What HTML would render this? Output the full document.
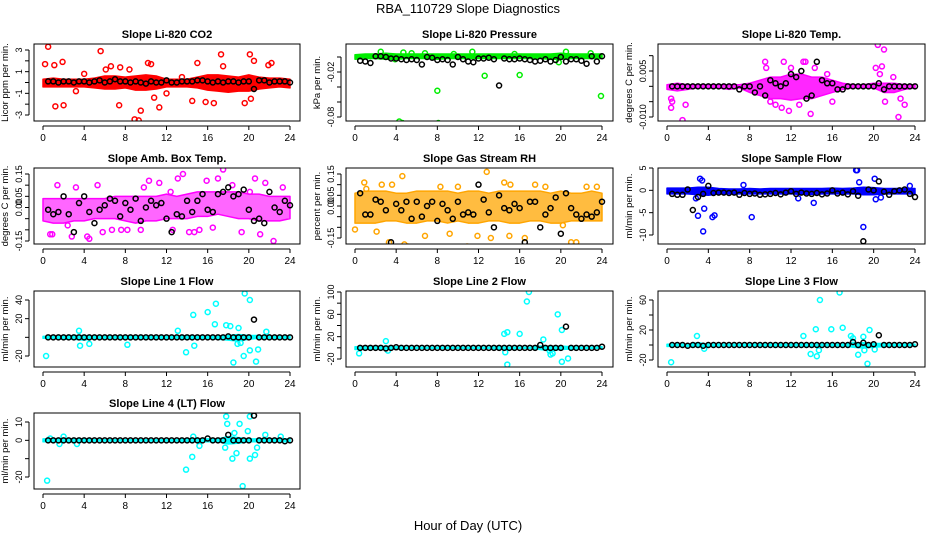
<!DOCTYPE html>
<html><head><meta charset="utf-8"><style>
html,body{margin:0;padding:0;background:#fff;}
svg{display:block;font-family:"Liberation Sans",sans-serif;}
</style></head><body>
<svg id="chart" width="936" height="540" viewBox="0 0 936 540" xmlns="http://www.w3.org/2000/svg">
<text x="468" y="13" font-size="13" text-anchor="middle">RBA_110729  Slope Diagnostics</text>
<text x="468" y="530" font-size="13" text-anchor="middle">Hour of Day (UTC)</text>
</svg>
<script>
const BAND_X=[0,1,2,3,4,5,6,7,8,9,10,11,12,13,14,15,16,17,18,19,20,21,22,23,24];
const BLACK_X=[0.5,1,1.5,2,2.5,3,3.5,4,4.5,5,5.5,6,6.5,7,7.5,8,8.5,9,9.5,10,10.5,11,11.5,12,12.5,13,13.5,14,14.5,15,15.5,16,16.5,17,17.5,18,18.5,19,19.5,20,20.5,21,21.5,22,22.5,23,23.5,24];
const X_TICKS=[0,4,8,12,16,20,24];

// Panel 1 CO2
const co2Lo=[-0.4,-0.4,-0.4,-0.4,-0.4,-0.5,-0.6,-0.6,-0.5,-0.7,-0.7,-0.6,-0.4,-0.4,-0.4,-0.5,-0.7,-0.8,-0.9,-0.8,-0.8,-0.6,-0.5,-0.4,-0.5];
const co2Hi=[0.3,0.4,0.3,0.3,0.3,0.4,0.6,0.6,0.5,0.6,0.7,0.6,0.3,0.3,0.3,0.5,0.7,0.7,0.6,0.5,0.7,0.5,0.4,0.4,0.3];
const co2OutX=[0.2,0.5,1.1,1.2,1.9,2,5.6,6.6,7.4,7.5,8.9,9.3,9.5,10.2,11.3,10.8,14.5,15,15.8,16.6,17.3,17.5,19.6,20.1,20.2,20.5,21.9,22.2,6.1,4,3.2,12,13.5,10.5,8.4];
const co2OutY=[1.7,3.3,1.6,-2.2,1.9,-2.1,2.9,1.5,-2.1,1.4,-3.4,-3.5,-2.6,1.8,-2.3,-1.4,-1.7,1.8,-1.8,-1.9,2.6,1.5,-1.9,2.6,-1.5,2,1.6,1.8,1.2,0.8,-0.8,-1,0.5,1.7,1.2];
const co2Black=[0.1,0.1,0,0.1,0.1,0,0.1,0.1,0,0.1,0.2,0,0.1,0.3,0.1,0.1,0,0.1,0,-0.1,0.1,0,0,0.2,0,0,0.1,0.1,0.1,0.2,0.2,0.1,0,0.1,0,0.1,0.1,0,0.1,0.1,-0.6,0.2,0.2,0,0.1,0.1,0.1,0];

// Panel 2 Pressure
const presLo=[-0.003,-0.002,-0.002,-0.003,-0.003,-0.002,-0.002,-0.002,-0.003,-0.002,-0.002,-0.002,-0.002,-0.002,-0.002,-0.002,-0.002,-0.002,-0.002,-0.003,-0.003,-0.002,-0.002,-0.002,-0.002];
const presHi=[0.003,0.004,0.004,0.005,0.004,0.004,0.004,0.004,0.004,0.004,0.004,0.004,0.004,0.004,0.004,0.004,0.004,0.004,0.004,0.004,0.005,0.004,0.004,0.004,0.004];
const presOutX=[4.3,4.6,8.1,8,12.6,16,23.9,2.5,4.7,6.8,11.4,20.5,19.8,5.5,9.6,15.5,22.9,3.9];
const presOutY=[-0.086,-0.088,-0.088,-0.045,-0.025,-0.024,-0.052,0.007,0.006,0.005,0.007,0.007,-0.007,0.005,0.004,0.004,0.005,-0.003];
const presBlack=[-0.005,-0.006,-0.008,0.001,0.001,0,-0.002,-0.002,-0.003,-0.004,-0.003,-0.004,-0.01,0,-0.001,-0.004,-0.003,-0.004,-0.01,0,-0.003,-0.006,-0.007,-0.002,-0.002,-0.001,-0.003,-0.038,-0.002,-0.003,-0.003,-0.002,-0.003,-0.004,-0.006,-0.005,-0.003,-0.006,-0.004,0,-0.006,-0.003,-0.003,-0.005,-0.009,0.001,-0.006,0.001];

// Panel 3 Temp
const tempLo=[-0.001,-0.0015,-0.001,-0.0005,-0.0005,-0.0005,-0.001,-0.0005,-0.002,-0.003,-0.004,-0.004,-0.0045,-0.004,-0.004,-0.003,-0.002,-0.001,-0.0005,-0.0005,-0.0005,-0.002,-0.002,-0.001,-0.0005];
const tempHi=[0.0005,0.001,0.0005,0.0005,0.0005,0.0005,0.0005,0.0005,0.001,0.002,0.003,0.003,0.004,0.004,0.003,0.003,0.002,0.001,0.0005,0.0005,0.001,0.001,0.001,0.0005,0.0005];
const tempOutX=[0.4,0.5,0.4,1.5,1.8,9.5,9.6,11.3,12,13.2,13.4,13.9,11.1,10.5,12.8,14.3,16,20.2,20.4,20.6,20.8,21,21.1,21.9,22.4,22.6,23,10,15.5,11.8];
const tempOutY=[-0.004,-0.005,-0.007,-0.011,-0.006,0.008,0.006,0.008,0.006,0.008,0.008,-0.009,-0.007,-0.006,-0.006,0.006,-0.005,0.006,0.0135,0.004,0.0065,0.012,-0.005,0.003,-0.010,-0.004,-0.006,-0.005,0.004,-0.008];
const tempBlack=[0,0,0,0,0,0,0,0,0,0,0,0,0,-0.001,0,0,-0.002,0,-0.003,0.002,0.001,0,0.001,0.004,0.003,0.005,-0.004,-0.003,0.008,0.002,0.001,0.001,-0.001,-0.001,0,0,0,0,0,0,0.001,-0.001,0,0,0,0,0,0];

// Panel 4 Amb Box Temp
const ambLo=[-0.06,-0.07,-0.07,-0.06,-0.06,-0.05,-0.05,-0.05,-0.06,-0.07,-0.06,-0.06,-0.05,-0.05,-0.05,-0.04,-0.04,-0.03,-0.04,-0.05,-0.05,-0.06,-0.06,-0.06,-0.05];
const ambHi=[0.04,0.04,0.04,0.04,0.04,0.04,0.04,0.05,0.05,0.05,0.05,0.05,0.06,0.05,0.06,0.07,0.07,0.07,0.07,0.07,0.06,0.06,0.05,0.05,0.05];
const ambOutX=[0.7,0.9,1.4,2.8,3.2,4.3,4.5,5.3,5.8,7.6,8.2,9.5,10.3,11.3,12.4,12.6,13.1,13.6,14.2,14.7,15.2,16.5,17,17.5,18.4,19.3,20.1,20.6,21.1,21.6,22.4,23.3,2.4,6.7,9.8,15.9];
const ambOutY=[-0.12,-0.12,0.1,-0.13,0.09,-0.13,-0.14,0.1,-0.11,-0.1,-0.1,-0.1,0.12,0.11,0.07,-0.1,0.13,0.15,-0.11,-0.11,-0.1,-0.09,0.13,0.17,0.1,-0.11,0.07,0.13,-0.12,0.11,-0.15,0.09,-0.08,-0.1,0.09,0.12];
const ambBlack=[-0.01,-0.03,-0.02,0.05,-0.03,-0.11,0.02,0.05,-0.02,-0.07,-0.01,0.01,0.04,0.03,-0.04,0.02,-0.01,0.04,-0.06,0,0.03,0.01,0.02,-0.05,-0.11,-0.03,-0.04,0.03,-0.02,0.03,0.06,-0.01,-0.02,0.06,0.07,0.09,0.05,0.06,0.08,-0.01,-0.06,-0.05,-0.07,0.07,0,-0.02,0.03,0.01];

// Panel 5 Gas Stream RH
const rhLo=[-0.08,-0.08,-0.08,-0.07,-0.07,-0.08,-0.08,-0.07,-0.07,-0.08,-0.07,-0.08,-0.08,-0.07,-0.07,-0.08,-0.08,-0.07,-0.07,-0.08,-0.08,-0.07,-0.07,-0.07,-0.07];
const rhHi=[0.06,0.07,0.07,0.07,0.06,0.06,0.07,0.07,0.07,0.07,0.06,0.07,0.07,0.06,0.07,0.07,0.07,0.07,0.07,0.06,0.07,0.06,0.06,0.07,0.06];
const rhOutX=[0,0.9,1.1,2.1,2.6,3.3,3.6,4.6,4.8,5.1,6.8,8.3,9.2,10,10.9,11.9,12.8,13.2,14.8,15,15.1,16.5,17.5,18.5,20.2,21,21.5,22.5,23.5,14.5];
const rhOutY=[-0.11,0.11,0.08,-0.12,0.1,-0.17,0.1,0.14,-0.18,-0.19,-0.14,0.09,-0.13,0.09,-0.19,-0.14,0.16,-0.15,-0.24,-0.14,0.1,-0.15,0.1,0.09,-0.09,-0.17,-0.17,0.09,0.09,0.11];
const rhBlack=[0.06,-0.04,-0.04,0.03,0.02,-0.02,-0.17,0.01,-0.02,0.02,-0.06,0.02,-0.05,0,0.02,-0.07,0.01,-0.02,-0.06,0.02,-0.04,-0.03,-0.04,0.1,0.03,-0.03,-0.1,0.05,-0.01,-0.02,0.01,-0.01,-0.17,0.02,0.02,-0.1,-0.04,-0.01,0.04,-0.13,0.06,-0.01,-0.04,-0.06,-0.04,-0.05,-0.03,0.02];

// Panel 6 Sample Flow
const sampLo=[-0.8,-0.8,-0.8,-1,-1.1,-0.8,-0.8,-0.8,-0.8,-0.8,-0.8,-0.8,-0.8,-0.9,-0.9,-0.8,-0.8,-0.8,-0.8,-1,-1,-0.8,-0.8,-0.8,-0.8];
const sampHi=[0.5,0.5,0.5,0.7,0.7,0.4,0.3,0.3,0.4,0.3,0.4,0.4,0.4,0.4,0.4,0.4,0.5,0.4,0.5,0.7,0.6,0.4,0.4,0.4,0.4];
const sampOutX=[2.8,3,3.2,3.5,3.6,4.4,4.6,8.2,12.7,14.2,18.3,18.4,18.6,19,20.1,20.2,20.7,23.5,7.4,3.4];
const sampOutY=[-1.8,-5.7,2.6,-9.2,-4.1,-6,-5.6,-6,-1.8,-2.8,4.5,4.5,1.8,-8.2,2.6,-2,-1.6,1,1.2,2.2];
const sampBlack=[-0.8,-1,-1,0.2,-4.4,-1.5,-0.8,1,-0.6,-0.5,-0.5,-0.6,-0.5,-1,-0.6,-0.8,-0.7,-1,-0.9,-0.8,-0.6,-0.9,-0.5,-0.2,-0.8,-0.5,-0.7,-0.8,-0.6,-0.9,-0.7,0,-0.7,-0.5,-0.9,-0.2,-1.2,-11.4,0.2,0,2,-0.3,-1,-0.2,0,0.2,-0.8,-1.5];

// Panel 7 Line 1
const l1Lo=[-1,-1,-2,-2,-3,-1,-1,-1,-1,-1,-1,-1,-1,-1,-2,-1,-1,-2,-3,-4,-2,-1,-1,-1,-1];
const l1Hi=[1,1,1,2,2,1,1,1,1,1,1,1,1,1,2,1,1,1,2,3,2,2,1,1,1];
const l1OutX=[0.3,3.5,3.6,4.5,8.2,13.1,13.9,14.6,14.7,16,16.7,16.8,17.8,18.2,18.5,19,19.5,19.6,20.1,20.1,20.7,20.9,21.7,19.2,18.9];
const l1OutY=[-20,7,-9,-7,-8,7,-16,24,-9,27,14,36,13,12,-27,10,-20,47,40,-14,-26,-13,6,-6,-7];
const l1Black=[0,0,0,0,0,0,0,0,0,0,0,0,0,0,0,0,0,0,0,0,0,0,0,0,0,0,0,0,0,0,0,0,0,0,0,1,0,0,0,0,19,0,0,0,0,0,0,0];

// Panel 8 Line 2
const l2Lo=[-3,-2,-2,-2,-2,-1,-1,-1,-1,-1,-1,-1,-1,-1,-2,-2,-1,-1,-3,-5,-3,-2,-1,-1,-1];
const l2Hi=[2,2,2,3,2,1,1,1,1,1,1,1,1,1,2,1,1,1,3,2,3,2,1,1,2];
const l2OutX=[0.4,3,3.2,14.5,14.6,14.8,14.8,16,16.7,16.9,18.3,19,19.2,19.7,20.1,20.1,20.7,18.9];
const l2OutY=[-10,12,-5,25,-8,28,-30,25,83,100,15,-12,-10,60,32,-25,-19,-5];
const l2Black=[0,0,0,0,0,-1,0,1,0,0,0,0,0,0,0,0,0,0,0,0,0,0,0,0,0,0,0,0,0,0,0,0,0,0,0,5,0,0,0,0,38,0,0,0,0,0,0,2];

// Panel 9 Line 3
const l3Lo=[-2,-1,-2,-2,-2,-1,-1,-1,-1,-1,-1,-1,-1,-1,-2,-1,-1,-1,-3,-4,-3,-2,-1,-1,-1];
const l3Hi=[1,1,1,3,1,1,1,1,1,1,1,1,1,1,1,1,1,1,3,3,2,2,1,1,1];
const l3OutX=[0.4,2.9,3.6,13.2,13.9,14.4,14.5,14.8,14.7,15.9,16.7,17,17.8,18.5,19,19.1,19.4,19.6,20.1,18];
const l3OutY=[-23,12,-5,12,-12,21,-15,60,-7,21,70,23,12,-13,11,-7,-25,20,-6,9];
const l3Black=[0,0,0,-1,0,0,-1,0,0,0,0,0,0,0,0,0,0,0,0,0,0,0,0,0,0,0,0,0,0,0,0,0,0,0,0,4,0,3,0,1,13,0,0,0,0,0,0,1];

// Panel 10 Line 4
const l4Lo=[-0.8,-0.8,-0.8,-0.8,-0.8,-0.4,-0.4,-0.4,-0.4,-0.4,-0.4,-0.4,-0.4,-0.4,-0.8,-0.8,-0.8,-0.8,-2,-1.5,-0.8,-0.8,-0.8,-0.8,-0.8];
const l4Hi=[0.8,0.8,0.8,0.8,0.8,0.4,0.4,0.4,0.4,0.4,0.4,0.4,0.4,0.4,0.8,0.8,0.8,0.8,2,1.5,0.8,0.8,0.8,0.8,0.8];
const l4OutX=[0.4,0.7,1.6,2,3.3,13.9,14.5,14.6,15.2,17.8,17.9,17.7,18.4,18.6,18.8,19.1,19.4,19.9,20.1,20.1,20.6,20.8,21.6,23.1];
const l4OutY=[-22,1,-2,2,-2,-16,-9,2,-3,13,9,-4,-10,4,-7,9,-25,5,-10,13,-8,-4,3,2];
const l4Black=[0,0,0,0,0,0,0,0,0,0,0,0,0,0,0,0,0,0,0,0,0,0,0,0,0,0,0,0,0,0,0,1,0,0,0,3,0,0,0,0,13.5,0,0,0,0,0,-0.5,0];

const COLS=[[34,300,43,290],[346,613,355,602],[658,925,667,915]];
const ROWS=[[44,121],[168,244],[291,367],[413,489]];
const panels=[
 {name:'co2',title:'Slope Li-820 CO2',ylab:'Licor ppm per min.',c:0,r:0,col:'#ff0000',op:1,ya:[3,-3],yp:[50,115],ticks:[3,2,1,0,-1,-2,-3],labs:['3','','1','','-1','','-3'],lo:co2Lo,hi:co2Hi,ox:co2OutX,oy:co2OutY,by:co2Black},
 {name:'pressure',title:'Slope Li-820 Pressure',ylab:'kPa per min.',c:1,r:0,col:'#00ee00',op:1,ya:[0,-0.08],yp:[57,117],ticks:[0,-0.02,-0.04,-0.06,-0.08],labs:['','-0.02','','','-0.08'],lo:presLo,hi:presHi,ox:presOutX,oy:presOutY,by:presBlack},
 {name:'temp',title:'Slope Li-820 Temp.',ylab:'degrees C per min.',c:2,r:0,col:'#ff00ff',op:0.85,ya:[0.005,-0.01],yp:[71,117],ticks:[0.01,0.005,0,-0.005,-0.01],labs:['','0.005','','','-0.010'],lo:tempLo,hi:tempHi,ox:tempOutX,oy:tempOutY,by:tempBlack},
 {name:'amb-box-temp',title:'Slope Amb. Box Temp.',ylab:'degrees C per min.',c:0,r:1,col:'#ff00ff',op:0.6,ya:[0.15,-0.15],yp:[174,241],ticks:[0.15,0.1,0.05,0,-0.05,-0.1,-0.15],labs:['0.15','','0.05','0.00','','','-0.15'],lo:ambLo,hi:ambHi,ox:ambOutX,oy:ambOutY,by:ambBlack},
 {name:'gas-stream-rh',title:'Slope Gas Stream RH',ylab:'percent per min.',c:1,r:1,col:'#ffa500',op:0.75,ya:[0.15,-0.15],yp:[174,238],ticks:[0.15,0.1,0.05,0,-0.05,-0.1,-0.15],labs:['0.15','','0.05','0.00','','','-0.15'],lo:rhLo,hi:rhHi,ox:rhOutX,oy:rhOutY,by:rhBlack},
 {name:'sample-flow',title:'Slope Sample Flow',ylab:'ml/min per min.',c:2,r:1,col:'#0000ff',op:1,ya:[5,-10],yp:[168,235],ticks:[5,0,-5,-10],labs:['5','0','-5','-10'],lo:sampLo,hi:sampHi,ox:sampOutX,oy:sampOutY,by:sampBlack},
 {name:'line1-flow',title:'Slope Line 1 Flow',ylab:'ml/min per min.',c:0,r:2,col:'#00ffff',op:1,ya:[40,-20],yp:[300,356],ticks:[40,20,0,-20],labs:['40','20','','-20'],lo:l1Lo,hi:l1Hi,ox:l1OutX,oy:l1OutY,by:l1Black},
 {name:'line2-flow',title:'Slope Line 2 Flow',ylab:'ml/min per min.',c:1,r:2,col:'#00ffff',op:1,ya:[100,-20],yp:[292,359],ticks:[100,80,60,40,20,0,-20],labs:['100','','60','','20','','-20'],lo:l2Lo,hi:l2Hi,ox:l2OutX,oy:l2OutY,by:l2Black},
 {name:'line3-flow',title:'Slope Line 3 Flow',ylab:'ml/min per min.',c:2,r:2,col:'#00ffff',op:1,ya:[60,-20],yp:[300,360],ticks:[60,40,20,0,-20],labs:['60','','20','','-20'],lo:l3Lo,hi:l3Hi,ox:l3OutX,oy:l3OutY,by:l3Black},
 {name:'line4-flow',title:'Slope Line 4 (LT) Flow',ylab:'ml/min per min.',c:0,r:3,col:'#00ffff',op:1,ya:[10,-20],yp:[422,477],ticks:[10,0,-10,-20],labs:['10','0','','-20'],lo:l4Lo,hi:l4Hi,ox:l4OutX,oy:l4OutY,by:l4Black}
];
const NS='http://www.w3.org/2000/svg';
const svg=document.getElementById('chart');
function mk(tag,attrs,parent){const e=document.createElementNS(NS,tag);for(const k in attrs)e.setAttribute(k,attrs[k]);parent.appendChild(e);return e;}
panels.forEach(p=>{
 const [bx0,bx1,x0,x24]=COLS[p.c];const [by0,by1]=ROWS[p.r];
 const xs=v=>x0+(x24-x0)*v/24;
 const ys=v=>p.yp[0]+(p.yp[1]-p.yp[0])*(v-p.ya[0])/(p.ya[1]-p.ya[0]);
 const g=mk('g',{},svg);
 
 
 const cp=mk('clipPath',{id:'cp-'+p.name},g);
 mk('rect',{x:bx0,y:by0,width:bx1-bx0,height:by1-by0},cp);
 const plot=mk('g',{'clip-path':'url(#cp-'+p.name+')'},g);
 let pts=[];
 BAND_X.forEach((h,i)=>pts.push(xs(h)+','+ys(p.hi[i])));
 for(let i=BAND_X.length-1;i>=0;i--)pts.push(xs(BAND_X[i])+','+ys(p.lo[i]));
 const band=mk('polygon',{points:pts.join(' '),fill:p.col,'fill-opacity':p.op,stroke:p.col,'stroke-width':1.5,'stroke-linejoin':'round'},plot);
 
 
 p.ox.forEach((h,i)=>{
  const c=mk('circle',{cx:xs(h),cy:ys(p.oy[i]),r:2.5,fill:'none',stroke:p.col,'stroke-width':1.5},plot);
  
  
 });
 BLACK_X.forEach((h,i)=>{
  const c=mk('circle',{cx:xs(h),cy:ys(p.by[i]),r:2.5,fill:'none',stroke:'#000','stroke-width':1.5},plot);
  
  
 });
 const fr=mk('rect',{x:bx0,y:by0,width:bx1-bx0,height:by1-by0,fill:'none',stroke:'#000','stroke-width':1},g);
 
 
 const t=mk('text',{x:(bx0+bx1)/2,y:by0-6,'font-size':11,'font-weight':'bold','text-anchor':'middle'},g);
 t.textContent=p.title;
 
 
 mk('line',{x1:xs(0),x2:xs(24),y1:by1+5,y2:by1+5,stroke:'#000'},g);
 X_TICKS.forEach(v=>{
  mk('line',{x1:xs(v),x2:xs(v),y1:by1+5,y2:by1+9,stroke:'#000'},g);
  const l=mk('text',{x:xs(v),y:by1+20,'font-size':10,'text-anchor':'middle'},g);
  l.textContent=v;
  
  
 });
 const ax=bx0-5;
 mk('line',{x1:ax,x2:ax,y1:ys(p.ticks[0]),y2:ys(p.ticks[p.ticks.length-1]),stroke:'#000'},g);
 p.ticks.forEach((v,i)=>{
  const y=ys(v);
  mk('line',{x1:ax-4,x2:ax,y1:y,y2:y,stroke:'#000'},g);
  if(p.labs[i]){
   const l=mk('text',{x:ax-7,y:y,'font-size':9,'text-anchor':'middle',transform:'rotate(-90 '+(ax-7)+' '+y+')'},g);
   l.textContent=p.labs[i];
   
   
  }
 });
 const yl=mk('text',{x:bx0-26,y:(by0+by1)/2,'font-size':9.5,'text-anchor':'middle',transform:'rotate(-90 '+(bx0-26)+' '+((by0+by1)/2)+')'},g);
 yl.textContent=p.ylab;
 
 
});
</script>
</body></html>
